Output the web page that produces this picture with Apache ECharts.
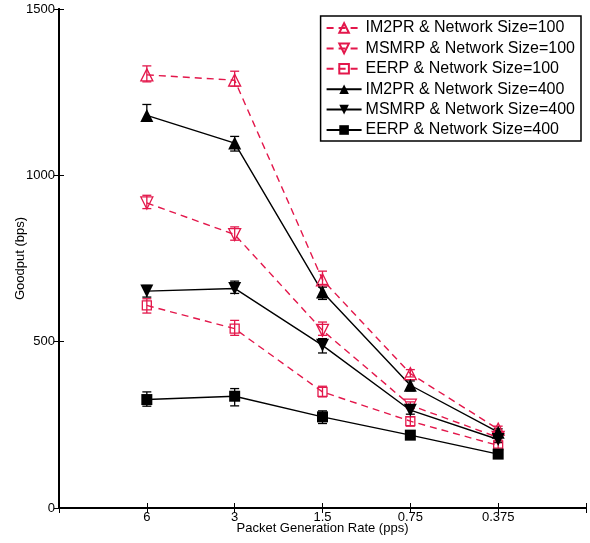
<!DOCTYPE html>
<html><head><meta charset="utf-8">
<script src="https://cdn.jsdelivr.net/npm/echarts@6/dist/echarts.min.js"></script>
<style>html,body{margin:0;padding:0;background:#fff}#c{width:590px;height:543px}</style>
</head><body><div id="c"></div>
<script>
var categories = ['6', '3', '1.5', '0.75', '0.375'];
var yTicks = [0, 500, 1000, 1500];

var im2pr100 = [1302, 1286, 686, 404, 237];
var im2pr100Low = [1281, 1268, 672, 394, 228];
var im2pr100High = [1329, 1313, 712, 416, 246];

var msmrp100 = [917, 822, 534, 309, 212];
var msmrp100Low = [900, 805, 519, 299, 204];
var msmrp100High = [940, 845, 559, 319, 220];

var eerp100 = [609, 539, 349, 261, 188];
var eerp100Low = [586, 519, 334, 246, 180];
var eerp100High = [629, 564, 366, 274, 196];

var im2pr400 = [1180, 1097, 649, 369, 228];
var im2pr400Low = [1163, 1073, 627, 352, 218];
var im2pr400High = [1213, 1117, 664, 382, 238];

var msmrp400 = [652, 660, 489, 294, 206];
var msmrp400Low = [634, 645, 466, 282, 198];
var msmrp400High = [669, 682, 509, 306, 214];

var eerp400 = [326, 336, 274, 219, 162];
var eerp400Low = [306, 307, 254, 213, 156];
var eerp400High = [349, 359, 292, 226, 168];

var RED = '#e3174b', BLK = '#000000';
var FONT = 'Liberation Sans, Arial, sans-serif';

var defs = [
  {name: 'IM2PR & Network Size=100', v: im2pr100, lo: im2pr100Low, hi: im2pr100High, c: RED, hollow: true, sym: 'triangle', rot: 0, size: 12, dash: true},
  {name: 'MSMRP & Network Size=100', v: msmrp100, lo: msmrp100Low, hi: msmrp100High, c: RED, hollow: true, sym: 'triangle', rot: 180, size: 12, dash: true},
  {name: 'EERP & Network Size=100', v: eerp100, lo: eerp100Low, hi: eerp100High, c: RED, hollow: true, sym: 'rect', rot: 0, size: 9, dash: true},
  {name: 'IM2PR & Network Size=400', v: im2pr400, lo: im2pr400Low, hi: im2pr400High, c: BLK, hollow: false, sym: 'triangle', rot: 0, size: 13, dash: false},
  {name: 'MSMRP & Network Size=400', v: msmrp400, lo: msmrp400Low, hi: msmrp400High, c: BLK, hollow: false, sym: 'triangle', rot: 180, size: 13, dash: false},
  {name: 'EERP & Network Size=400', v: eerp400, lo: eerp400Low, hi: eerp400High, c: BLK, hollow: false, sym: 'rect', rot: 0, size: 11, dash: false}
];

var series = [];
defs.forEach(function (d) {
  series.push({
    type: 'custom',
    name: d.name + ' err',
    silent: true,
    z: 3,
    data: categories.map(function (c, i) { return [i + 1, d.lo[i], d.hi[i]]; }),
    renderItem: function (params, api) {
      var x = api.value(0);
      var p1 = api.coord([x, api.value(1)]);
      var p2 = api.coord([x, api.value(2)]);
      var w = 4.5;
      var st = {stroke: d.c, lineWidth: 1.3};
      return {type: 'group', children: [
        {type: 'line', shape: {x1: p1[0], y1: p1[1], x2: p2[0], y2: p2[1]}, style: st},
        {type: 'line', shape: {x1: p1[0] - w, y1: p1[1], x2: p1[0] + w, y2: p1[1]}, style: st},
        {type: 'line', shape: {x1: p2[0] - w, y1: p2[1], x2: p2[0] + w, y2: p2[1]}, style: st}
      ]};
    }
  });
  series.push({
    type: 'line',
    name: d.name,
    z: 4,
    data: categories.map(function (c, i) { return [i + 1, d.v[i]]; }),
    symbol: d.sym,
    symbolSize: d.size,
    symbolRotate: d.rot,
    showAllSymbol: true,
    lineStyle: {color: d.c, width: 1.4, type: d.dash ? [7, 5] : 'solid'},
    itemStyle: d.hollow ? {color: 'rgba(255,255,255,0)', borderColor: d.c, borderWidth: 1.3} : {color: d.c, borderColor: d.c, borderWidth: 0},
    emphasis: {disabled: true},
    animation: false
  });
});

var chart = echarts.init(document.getElementById('c'), null, {renderer: 'canvas'});
chart.setOption({
  animation: false,
  backgroundColor: '#fff',
  textStyle: {fontFamily: FONT},
  grid: {left: 59, right: 4, top: 9, bottom: 35, containLabel: false, outerBoundsMode: 'none'},
  legend: {
    data: defs.map(function (d) { return d.name; }),
    orient: 'vertical',
    right: 9,
    top: 16,
    itemWidth: 35,
    itemHeight: 12,
    itemGap: 4.4,
    padding: [4, 6, 3, 5],
    borderColor: '#000',
    borderWidth: 1.5,
    backgroundColor: '#fff',
    textStyle: {fontFamily: FONT, fontSize: 16, color: '#000', padding: [0, 0, 0, -1]}
  },
  xAxis: [{
    type: 'value', min: 0, max: 6, interval: 1,
    name: 'Packet Generation Rate (pps)', nameLocation: 'middle', nameGap: 14,
    nameMoveOverlap: false,
    nameTextStyle: {fontFamily: FONT, fontSize: 13, color: '#000', verticalAlign: 'top'},
    axisLine: {lineStyle: {color: '#000', width: 2}},
    axisTick: {inside: true, length: 5, lineStyle: {color: '#000', width: 1}},
    axisLabel: {fontFamily: FONT, fontSize: 13, color: '#000', margin: 3,
      formatter: function (v) { return categories[v - 1] || ''; }},
    splitLine: {show: false}
  }, {
    type: 'value', min: 0, max: 6, interval: 1, position: 'top',
    axisLine: {show: true, lineStyle: {color: '#000', width: 2}},
    axisTick: {inside: true, length: 5, lineStyle: {color: '#000', width: 1}},
    axisLabel: {show: false}, splitLine: {show: false}
  }],
  yAxis: [{
    type: 'value', min: yTicks[0], max: yTicks[yTicks.length - 1], interval: 500,
    name: 'Goodput (bps)', nameLocation: 'middle', nameGap: 32,
    nameMoveOverlap: false,
    nameTextStyle: {fontFamily: FONT, fontSize: 13, color: '#000'},
    axisLine: {show: true, lineStyle: {color: '#000', width: 2}},
    axisTick: {show: true, inside: true, length: 5, lineStyle: {color: '#000', width: 1}},
    axisLabel: {fontFamily: FONT, fontSize: 13, color: '#000', margin: 4,
      formatter: function (v) { return String(v); }},
    splitLine: {show: false}
  }, {
    type: 'value', min: yTicks[0], max: yTicks[yTicks.length - 1], interval: 500, position: 'right',
    axisLine: {show: true, lineStyle: {color: '#000', width: 2}},
    axisTick: {show: true, inside: true, length: 5, lineStyle: {color: '#000', width: 1}},
    axisLabel: {show: false}, splitLine: {show: false}
  }],
  series: series
});
</script></body></html>
